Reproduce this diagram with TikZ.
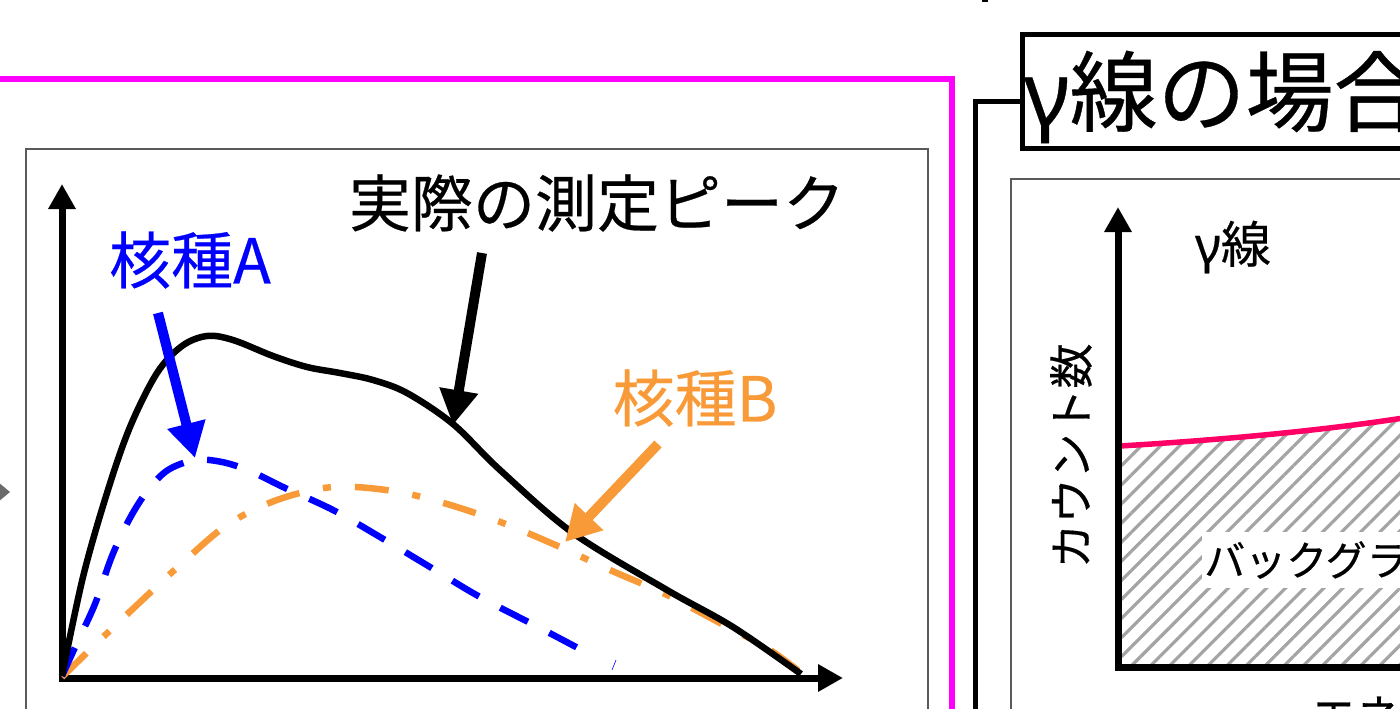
\documentclass[tikz,border=0pt]{standalone}
\usepackage{fontspec}
\setmainfont{Noto Sans CJK JP}[FakeBold=0.4]
\newfontfamily\grk{Noto Sans}[FakeBold=0.4]
\usetikzlibrary{arrows.meta,patterns.meta}
\definecolor{mag}{HTML}{FF00FF}
\definecolor{frameg}{HTML}{5A5A5A}
\definecolor{nucA}{HTML}{0000FF}
\definecolor{nucB}{HTML}{F89A38}
\definecolor{bgline}{HTML}{FF0066}
\definecolor{hatch}{HTML}{A4A4A4}
\definecolor{navg}{HTML}{6A6A6A}
\begin{document}
\begin{tikzpicture}[x=1pt,y=-1pt,
  axisline/.style={line width=7pt,line cap=rect,-{Triangle[length=25pt,width=26pt]}},
  thinframe/.style={draw=frameg,line width=2pt},
  lbl/.style={inner sep=0pt,font=\fontsize{62}{70}\selectfont},
  pointer/.style={line width=10pt,-{Triangle[length=35pt,width=37pt]}},
  small/.style={inner sep=0pt,font=\fontsize{45}{52}\selectfont},
  curve/.style={line width=6.5pt},
]
\useasboundingbox (0,0) rectangle (1400,709);
\clip (0,0) rectangle (1400,709);

% ---------- left panel ----------
\draw[mag,line width=6pt] (-10,79) -- (952,79) -- (952,730);
\fill[navg] (-8,477) -- (10,492) -- (-8,507) -- cycle;
\draw[thinframe] (26,149) rectangle (928,740);

\coordinate (O) at (62,678);
\coordinate (ytop) at (62,184);
\coordinate (xend) at (843,678);
\draw[axisline] (O) -- (ytop);
\draw[axisline] (O) -- (xend);

% nuclide B (orange dash-dot)
\draw[nucB,curve,dash pattern=on 34pt off 24pt on 8pt off 24pt]
  plot[smooth,tension=0.55] coordinates {(62,677) (98,642) (137,605) (180,565) (227,525) (277,500) (333,487) (393,491) (447,504) (503,523) (560,547) (610,570) (665,594) (720,623) (767,648) (800,672)};
% nuclide A (blue dashed)
\draw[nucA,curve,dash pattern=on 31pt off 24pt]
  plot[smooth,tension=0.55] coordinates {(62,676) (77,643) (95,604) (112,556) (130,518) (148,490) (168,470) (195,460) (222,462) (250,471) (283,487) (333,510) (380,537) (430,567) (480,597) (540,628) (593,656)};
\draw[nucA,line width=0.6pt] (612,670) -- (616,660);
% actual peak (black)
\draw[curve]
  plot[smooth,tension=0.55] coordinates {(62,676) (83,577) (107,493) (130,427) (157,373) (182,346) (207,336) (233,340) (273,356) (307,367) (340,373) (373,380) (407,393) (453,424) (500,470) (573,533) (667,590) (733,627) (801,674)};

% labels and pointers
\node[lbl] (peak) at (597,203) {実際の測定ピーク};
\coordinate (peakS) at (482,253);
\coordinate (peakT) at (453,425);
\draw[pointer] (peakS) -- (peakT);

\node[lbl,text=nucA] (labA) at (190,260) {核種A};
\coordinate (aS) at (158,313);
\coordinate (aT) at (195,458);
\draw[pointer,nucA] (aS) -- (aT);

\node[lbl,text=nucB] (labB) at (695,398) {核種B};
\coordinate (bS) at (658,444);
\coordinate (bT) at (565,542);
\draw[pointer,nucB] (bS) -- (bT);

% ---------- right panel ----------
\fill (982,0) rectangle (988,2.5);
\draw[line width=5pt] (1022,35) rectangle (1430,148);
\node[inner sep=0pt,anchor=west,font=\fontsize{88}{96}\selectfont] (title) at (1024,97) {{\grk γ}線の場合};
\coordinate (tconn) at (1022,101);
\coordinate (tcorner) at (975,101);
\coordinate (tdown) at (975,730);
\draw[line width=5pt] (tconn) -- (tcorner) -- (tdown);

\draw[thinframe] (1011,179) rectangle (1430,740);

\fill[pattern={Lines[angle=45,distance=13.5pt,line width=3.2pt]},pattern color=hatch]
  (1120,446) .. controls (1220,440) and (1320,431) .. (1410,417) -- (1410,667) -- (1120,667) -- cycle;
\draw[bgline,line width=5.5pt] (1120,446) .. controls (1220,440) and (1320,431) .. (1410,417);

\coordinate (O2) at (1118,667);
\coordinate (ytop2) at (1118,207);
\coordinate (xend2) at (1430,667);
\draw[axisline] (O2) -- (ytop2);
\draw[line width=7pt,line cap=rect] (O2) -- (xend2);

\node[font=\fontsize{41}{48}\selectfont,fill=white,inner xsep=2pt,inner ysep=9pt,anchor=west] (bg) at (1202,560) {バックグラウンド};
\node[small,rotate=90] (ylab) at (1071,456) {カウント数};
\node[inner sep=0pt,font=\fontsize{50}{56}\selectfont] (gam) at (1233,247) {{\grk γ}線};
\node[small,anchor=north west] (xlab) at (1311,694) {エネルギー};
\end{tikzpicture}
\end{document}
